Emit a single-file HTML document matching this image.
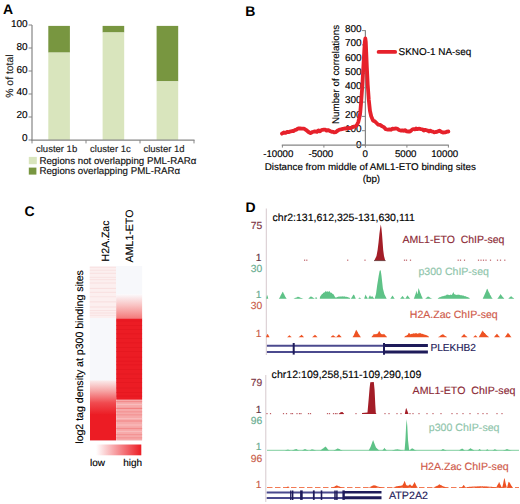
<!DOCTYPE html>
<html><head><meta charset="utf-8"><style>
html,body{margin:0;padding:0;background:#fff;}
svg{display:block;}
svg text{font-family:"Liberation Sans", sans-serif;text-rendering:geometricPrecision;}
</style></head><body>
<svg width="520" height="504" viewBox="0 0 520 504" font-family='"Liberation Sans", sans-serif'>
<rect width="520" height="504" fill="#fff"/>
<text x="3.0" y="13.85" font-size="14" fill="#000" text-anchor="start" font-weight="bold" >A</text>
<rect x="48.3" y="25.9" width="21.6" height="26.699999999999996" fill="#789640"/>
<rect x="48.3" y="52.599999999999994" width="21.6" height="87.4" fill="#d9e5bd"/>
<rect x="102.6" y="25.9" width="21.6" height="6.574999999999996" fill="#789640"/>
<rect x="102.6" y="32.474999999999994" width="21.6" height="107.525" fill="#d9e5bd"/>
<rect x="156.6" y="25.9" width="21.6" height="55.449999999999996" fill="#789640"/>
<rect x="156.6" y="81.35" width="21.6" height="58.650000000000006" fill="#d9e5bd"/>
<line x1="32" y1="25" x2="32" y2="140.6" stroke="#858585" stroke-width="1.2"/>
<line x1="28.6" y1="140.0" x2="32" y2="140.0" stroke="#858585" stroke-width="1"/>
<text x="27.6" y="141.0" font-size="10" fill="#000" text-anchor="end" font-weight="normal" stroke="#000" stroke-width="0.15" >0</text>
<line x1="28.6" y1="117.0" x2="32" y2="117.0" stroke="#858585" stroke-width="1"/>
<text x="27.6" y="118.18" font-size="10" fill="#000" text-anchor="end" font-weight="normal" stroke="#000" stroke-width="0.15" >20</text>
<line x1="28.6" y1="94.0" x2="32" y2="94.0" stroke="#858585" stroke-width="1"/>
<text x="27.6" y="95.36" font-size="10" fill="#000" text-anchor="end" font-weight="normal" stroke="#000" stroke-width="0.15" >40</text>
<line x1="28.6" y1="71.0" x2="32" y2="71.0" stroke="#858585" stroke-width="1"/>
<text x="27.6" y="72.54" font-size="10" fill="#000" text-anchor="end" font-weight="normal" stroke="#000" stroke-width="0.15" >60</text>
<line x1="28.6" y1="48.0" x2="32" y2="48.0" stroke="#858585" stroke-width="1"/>
<text x="27.6" y="49.720000000000006" font-size="10" fill="#000" text-anchor="end" font-weight="normal" stroke="#000" stroke-width="0.15" >80</text>
<line x1="28.6" y1="25.0" x2="32" y2="25.0" stroke="#858585" stroke-width="1"/>
<text x="27.6" y="26.9" font-size="10" fill="#000" text-anchor="end" font-weight="normal" stroke="#000" stroke-width="0.15" >100</text>
<line x1="31.5" y1="140.2" x2="194.5" y2="140.2" stroke="#858585" stroke-width="1.2"/>
<line x1="32" y1="140" x2="32" y2="143.4" stroke="#858585" stroke-width="1"/>
<line x1="86" y1="140" x2="86" y2="143.4" stroke="#858585" stroke-width="1"/>
<line x1="140" y1="140" x2="140" y2="143.4" stroke="#858585" stroke-width="1"/>
<line x1="194" y1="140" x2="194" y2="143.4" stroke="#858585" stroke-width="1"/>
<text x="56.6" y="152.2" font-size="9.5" fill="#222" text-anchor="middle" font-weight="normal" stroke="#222" stroke-width="0.15" >cluster 1b</text>
<text x="110.4" y="152.2" font-size="9.5" fill="#222" text-anchor="middle" font-weight="normal" stroke="#222" stroke-width="0.15" >cluster 1c</text>
<text x="164.0" y="152.2" font-size="9.5" fill="#222" text-anchor="middle" font-weight="normal" stroke="#222" stroke-width="0.15" >cluster 1d</text>
<text transform="translate(13.2,76.1) rotate(-90)" font-size="10.4" text-anchor="middle" fill="#222" stroke="#222" stroke-width="0.15">% of total</text>
<rect x="28.8" y="156.9" width="8" height="7.3" fill="#d9e5bd"/>
<rect x="28.8" y="167.6" width="7.6" height="7.0" fill="#789640"/>
<text x="39.4" y="164.3" font-size="9.72" fill="#111" text-anchor="start" font-weight="normal" stroke="#111" stroke-width="0.15" >Regions not overlapping PML-RAR&#945;</text>
<text x="39.4" y="174.3" font-size="9.72" fill="#111" text-anchor="start" font-weight="normal" stroke="#111" stroke-width="0.15" >Regions overlapping PML-RAR&#945;</text>
<text x="245.3" y="15.7" font-size="14" fill="#000" text-anchor="start" font-weight="bold" >B</text>
<line x1="365.4" y1="30.2" x2="365.4" y2="145.5" stroke="#858585" stroke-width="1.2"/>
<line x1="362" y1="145.00" x2="365.4" y2="145.00" stroke="#858585" stroke-width="1"/>
<text x="361.6" y="147.9" font-size="10" fill="#000" text-anchor="end" font-weight="normal" stroke="#000" stroke-width="0.15" >0</text>
<line x1="362" y1="130.70" x2="365.4" y2="130.70" stroke="#858585" stroke-width="1"/>
<text x="361.6" y="132.0" font-size="10" fill="#000" text-anchor="end" font-weight="normal" stroke="#000" stroke-width="0.15" >100</text>
<line x1="362" y1="116.40" x2="365.4" y2="116.40" stroke="#858585" stroke-width="1"/>
<text x="361.6" y="117.7" font-size="10" fill="#000" text-anchor="end" font-weight="normal" stroke="#000" stroke-width="0.15" >200</text>
<line x1="362" y1="102.10" x2="365.4" y2="102.10" stroke="#858585" stroke-width="1"/>
<text x="361.6" y="103.39999999999999" font-size="10" fill="#000" text-anchor="end" font-weight="normal" stroke="#000" stroke-width="0.15" >300</text>
<line x1="362" y1="87.80" x2="365.4" y2="87.80" stroke="#858585" stroke-width="1"/>
<text x="361.6" y="89.10000000000001" font-size="10" fill="#000" text-anchor="end" font-weight="normal" stroke="#000" stroke-width="0.15" >400</text>
<line x1="362" y1="73.50" x2="365.4" y2="73.50" stroke="#858585" stroke-width="1"/>
<text x="361.6" y="74.8" font-size="10" fill="#000" text-anchor="end" font-weight="normal" stroke="#000" stroke-width="0.15" >500</text>
<line x1="362" y1="59.20" x2="365.4" y2="59.20" stroke="#858585" stroke-width="1"/>
<text x="361.6" y="60.5" font-size="10" fill="#000" text-anchor="end" font-weight="normal" stroke="#000" stroke-width="0.15" >600</text>
<line x1="362" y1="44.90" x2="365.4" y2="44.90" stroke="#858585" stroke-width="1"/>
<text x="361.6" y="46.2" font-size="10" fill="#000" text-anchor="end" font-weight="normal" stroke="#000" stroke-width="0.15" >700</text>
<line x1="362" y1="30.60" x2="365.4" y2="30.60" stroke="#858585" stroke-width="1"/>
<text x="361.6" y="31.90000000000001" font-size="10" fill="#000" text-anchor="end" font-weight="normal" stroke="#000" stroke-width="0.15" >800</text>
<line x1="281.8" y1="145.2" x2="448.8" y2="145.2" stroke="#858585" stroke-width="1.2"/>
<line x1="282.4" y1="145" x2="282.4" y2="147.6" stroke="#858585" stroke-width="1"/>
<text x="278.3" y="157.4" font-size="9.7" fill="#000" text-anchor="middle" font-weight="normal" stroke="#000" stroke-width="0.15" >-10000</text>
<line x1="323.9" y1="145" x2="323.9" y2="147.6" stroke="#858585" stroke-width="1"/>
<text x="320.8" y="157.4" font-size="9.7" fill="#000" text-anchor="middle" font-weight="normal" stroke="#000" stroke-width="0.15" >-5000</text>
<line x1="365.4" y1="145" x2="365.4" y2="147.6" stroke="#858585" stroke-width="1"/>
<text x="365.3" y="157.4" font-size="9.7" fill="#000" text-anchor="middle" font-weight="normal" stroke="#000" stroke-width="0.15" >0</text>
<line x1="406.9" y1="145" x2="406.9" y2="147.6" stroke="#858585" stroke-width="1"/>
<text x="405.7" y="157.4" font-size="9.7" fill="#000" text-anchor="middle" font-weight="normal" stroke="#000" stroke-width="0.15" >5000</text>
<line x1="448.4" y1="145" x2="448.4" y2="147.6" stroke="#858585" stroke-width="1"/>
<text x="444.7" y="157.4" font-size="9.7" fill="#000" text-anchor="middle" font-weight="normal" stroke="#000" stroke-width="0.15" >10000</text>
<text x="370.3" y="169.7" font-size="9.8" fill="#000" text-anchor="middle" font-weight="normal" stroke="#000" stroke-width="0.15" >Distance from middle of AML1-ETO binding sites</text>
<text x="371.4" y="182.3" font-size="9.8" fill="#000" text-anchor="middle" font-weight="normal" stroke="#000" stroke-width="0.15" >(bp)</text>
<text transform="translate(339.4,74.5) rotate(-90)" font-size="9.8" text-anchor="middle" stroke="#000" stroke-width="0.15">Number of correlations</text>
<line x1="378.6" y1="51.9" x2="395.2" y2="51.9" stroke="#e6212b" stroke-width="3.8" stroke-linecap="round"/>
<text x="398.6" y="55.4" font-size="9.92" fill="#000" text-anchor="start" font-weight="normal" stroke="#000" stroke-width="0.15" >SKNO-1 NA-seq</text>
<path d="M281.90,133.65 L284.00,132.51 L285.55,132.96 L287.10,131.90 L288.55,132.20 L290.00,131.61 L292.30,130.98 L293.65,131.06 L295.00,129.85 L296.25,129.86 L297.50,128.80 L298.75,128.43 L300.00,128.49 L301.80,128.66 L304.00,128.67 L306.20,130.01 L308.50,131.98 L310.50,133.13 L312.50,132.01 L314.80,131.46 L317.00,131.87 L318.50,130.37 L320.00,131.30 L321.25,130.26 L322.50,129.80 L323.85,129.56 L325.20,129.63 L326.60,130.64 L328.00,130.05 L330.40,131.21 L331.70,131.74 L333.00,131.82 L334.30,132.47 L335.60,132.19 L338.00,130.38 L339.40,129.69 L340.80,129.45 L343.00,128.90 L344.50,128.49 L346.00,128.62 L347.25,128.23 L348.50,127.82 L349.85,128.26 L351.20,127.88 L353.50,126.74 L355.50,126.40 L357.00,124.84 L358.30,122.03 L359.30,117.82 L360.20,113.00 L361.30,100.00 L362.40,84.60 L363.30,68.00 L364.20,51.90 L364.80,42.00 L365.30,38.50 L365.80,42.00 L366.20,51.90 L366.90,68.00 L367.70,84.60 L368.80,100.00 L370.00,111.00 L371.20,116.20 L373.00,120.47 L375.00,121.47 L376.50,122.99 L378.00,124.56 L380.00,124.81 L382.30,126.38 L384.00,127.15 L385.80,129.24 L388.00,129.67 L389.50,129.35 L391.00,129.73 L392.25,128.69 L393.50,128.97 L394.85,128.68 L396.20,128.51 L397.60,128.89 L399.00,129.98 L401.30,130.72 L402.53,130.30 L403.77,130.80 L405.00,130.18 L406.65,131.33 L408.30,131.51 L409.65,131.49 L411.00,130.75 L412.25,129.45 L413.50,129.04 L414.75,129.44 L416.00,128.53 L417.35,129.15 L418.70,128.74 L421.00,129.16 L422.40,129.28 L423.80,130.48 L425.15,129.83 L426.50,130.25 L427.75,130.65 L429.00,131.52 L430.25,130.61 L431.50,131.33 L432.85,131.67 L434.20,132.34 L435.60,132.00 L437.00,131.81 L439.40,130.69 L441.00,131.68 L442.90,132.50 L445.00,132.44 L447.20,131.64 L448.40,131.50" fill="none" stroke="#e6212b" stroke-width="3.8" stroke-linejoin="round" stroke-linecap="round"/>
<text x="24.6" y="216.0" font-size="14" fill="#000" text-anchor="start" font-weight="bold" >C</text>
<defs><linearGradient id="gL" x1="0" y1="0" x2="0" y2="1"><stop offset="0" stop-color="#fbecec"/><stop offset="0.3" stop-color="#f6a6a6"/><stop offset="0.65" stop-color="#f04a4f"/><stop offset="1" stop-color="#ec1c24"/></linearGradient><linearGradient id="gR" x1="0" y1="0" x2="0" y2="1"><stop offset="0" stop-color="#fbfbfd"/><stop offset="0.45" stop-color="#f9c4c4"/><stop offset="1" stop-color="#f47a7a"/></linearGradient><linearGradient id="gBar" x1="0" y1="0" x2="1" y2="0"><stop offset="0" stop-color="#fff"/><stop offset="1" stop-color="#ec1c24"/></linearGradient></defs>
<rect x="89.8" y="266" width="52.4" height="175" fill="#f7f8fb"/>
<rect x="89.8" y="266.2" width="26.2" height="51.8" fill="#fcefef"/>
<rect x="89.8" y="267.0" width="26.2" height="1" fill="#f6d8d8" opacity="0.48"/>
<rect x="89.8" y="269.8" width="26.2" height="1" fill="#f6d8d8" opacity="0.52"/>
<rect x="89.8" y="272.8" width="26.2" height="1" fill="#f6d8d8" opacity="0.64"/>
<rect x="89.8" y="276.9" width="26.2" height="1" fill="#f6d8d8" opacity="0.53"/>
<rect x="89.8" y="279.1" width="26.2" height="1" fill="#f6d8d8" opacity="0.61"/>
<rect x="89.8" y="282.5" width="26.2" height="1" fill="#f6d8d8" opacity="0.68"/>
<rect x="89.8" y="287.9" width="26.2" height="1" fill="#f6d8d8" opacity="0.75"/>
<rect x="89.8" y="291.8" width="26.2" height="1" fill="#f6d8d8" opacity="0.71"/>
<rect x="89.8" y="296.2" width="26.2" height="1" fill="#f6d8d8" opacity="0.43"/>
<rect x="89.8" y="301.4" width="26.2" height="1" fill="#f6d8d8" opacity="0.79"/>
<rect x="89.8" y="306.5" width="26.2" height="1" fill="#f6d8d8" opacity="0.80"/>
<rect x="89.8" y="310.0" width="26.2" height="1" fill="#f6d8d8" opacity="0.60"/>
<rect x="89.8" y="312.5" width="26.2" height="1" fill="#f6d8d8" opacity="0.72"/>
<rect x="89.8" y="314.9" width="26.2" height="1" fill="#f6d8d8" opacity="0.43"/>
<rect x="90" y="380.4" width="26" height="34.6" fill="url(#gL)"/>
<rect x="90" y="414.8" width="26" height="25.6" fill="#ec1c24"/>
<rect x="116.2" y="294" width="25.9" height="24.6" fill="url(#gR)"/>
<rect x="116.2" y="318.5" width="25.9" height="81.3" fill="#ec1c24"/>
<rect x="116.2" y="320.5" width="25.9" height="0.8" fill="#e0161e" opacity="0.6"/>
<rect x="116.2" y="325.1" width="25.9" height="0.8" fill="#e0161e" opacity="0.6"/>
<rect x="116.2" y="329.1" width="25.9" height="0.8" fill="#e0161e" opacity="0.6"/>
<rect x="116.2" y="333.4" width="25.9" height="0.8" fill="#e0161e" opacity="0.6"/>
<rect x="116.2" y="338.0" width="25.9" height="0.8" fill="#e0161e" opacity="0.6"/>
<rect x="116.2" y="342.4" width="25.9" height="0.8" fill="#e0161e" opacity="0.6"/>
<rect x="116.2" y="347.2" width="25.9" height="0.8" fill="#e0161e" opacity="0.6"/>
<rect x="116.2" y="351.0" width="25.9" height="0.8" fill="#e0161e" opacity="0.6"/>
<rect x="116.2" y="356.8" width="25.9" height="0.8" fill="#e0161e" opacity="0.6"/>
<rect x="116.2" y="360.8" width="25.9" height="0.8" fill="#e0161e" opacity="0.6"/>
<rect x="116.2" y="364.4" width="25.9" height="0.8" fill="#e0161e" opacity="0.6"/>
<rect x="116.2" y="369.0" width="25.9" height="0.8" fill="#e0161e" opacity="0.6"/>
<rect x="116.2" y="373.6" width="25.9" height="0.8" fill="#e0161e" opacity="0.6"/>
<rect x="116.2" y="378.0" width="25.9" height="0.8" fill="#e0161e" opacity="0.6"/>
<rect x="116.2" y="382.0" width="25.9" height="0.8" fill="#e0161e" opacity="0.6"/>
<rect x="116.2" y="387.6" width="25.9" height="0.8" fill="#e0161e" opacity="0.6"/>
<rect x="116.2" y="392.2" width="25.9" height="0.8" fill="#e0161e" opacity="0.6"/>
<rect x="116.2" y="395.7" width="25.9" height="0.8" fill="#e0161e" opacity="0.6"/>
<rect x="116.2" y="399.8" width="25.9" height="40.6" fill="#f6a9a9"/>
<rect x="116.2" y="401.0" width="25.9" height="1.2" fill="#f28c8c"/>
<rect x="116.2" y="403.9" width="25.9" height="1.2" fill="#f8bcbc"/>
<rect x="116.2" y="407.8" width="25.9" height="1.2" fill="#f28282"/>
<rect x="116.2" y="411.2" width="25.9" height="1.2" fill="#f39494"/>
<rect x="116.2" y="414.2" width="25.9" height="1.2" fill="#f39494"/>
<rect x="116.2" y="418.0" width="25.9" height="1.2" fill="#f8bcbc"/>
<rect x="116.2" y="420.4" width="25.9" height="1.2" fill="#f28c8c"/>
<rect x="116.2" y="424.4" width="25.9" height="1.2" fill="#f8bcbc"/>
<rect x="116.2" y="427.9" width="25.9" height="1.2" fill="#f28c8c"/>
<rect x="116.2" y="430.9" width="25.9" height="1.2" fill="#f8bcbc"/>
<rect x="116.2" y="434.0" width="25.9" height="1.2" fill="#f39494"/>
<rect x="116.2" y="437.2" width="25.9" height="1.2" fill="#f39494"/>
<rect x="96" y="444.5" width="45.3" height="10.8" fill="url(#gBar)"/>
<text x="90.0" y="465.5" font-size="10" fill="#000" text-anchor="start" font-weight="normal" stroke="#000" stroke-width="0.15" >low</text>
<text x="123.2" y="465.5" font-size="10" fill="#000" text-anchor="start" font-weight="normal" stroke="#000" stroke-width="0.15" >high</text>
<text transform="translate(109.0,261.4) rotate(-90)" font-size="10.5" stroke="#000" stroke-width="0.15">H2A.Zac</text>
<text transform="translate(132.9,262.4) rotate(-90)" font-size="10.6" stroke="#000" stroke-width="0.15">AML1-ETO</text>
<text transform="translate(83.0,443.7) rotate(-90)" font-size="10.55" stroke="#000" stroke-width="0.15">log2 tag density at p300 binding sites</text>
<text x="245.6" y="212.1" font-size="14" fill="#000" text-anchor="start" font-weight="bold" >D</text>
<line x1="266.3" y1="208.5" x2="266.3" y2="355" stroke="#d6c9cd" stroke-width="1"/>
<text x="272.6" y="221.1" font-size="10.52" fill="#000" text-anchor="start" font-weight="normal" stroke="#000" stroke-width="0.15" >chr2:131,612,325-131,630,111</text>
<text x="262.2" y="229.4" font-size="10.3" fill="#7d3444" text-anchor="end" font-weight="normal" stroke="#7d3444" stroke-width="0.15" >75</text>
<text x="261.4" y="261.1" font-size="10.3" fill="#5e3040" text-anchor="end" font-weight="normal" stroke="#5e3040" stroke-width="0.15" >1</text>
<text x="402.5" y="242.6" font-size="10.5" fill="#8c2a36" text-anchor="start" font-weight="normal" stroke="#8c2a36" stroke-width="0.15" >AML1-ETO&#160; ChIP-seq</text>
<path d="M374.30,260.50 L376.50,256.00 L377.60,250.00 L378.60,242.00 L379.40,234.00 L380.20,228.00 L380.80,224.40 L381.40,228.00 L382.00,234.00 L382.60,242.00 L383.20,250.00 L384.00,256.00 L385.20,260.50Z" fill="#a31d27"/>
<rect x="304.0" y="259.6" width="1.2" height="1.2" fill="#a31d27" opacity="0.7"/>
<rect x="306.2" y="259.6" width="1.2" height="1.2" fill="#a31d27" opacity="0.7"/>
<rect x="347.09999999999997" y="259.6" width="1.2" height="1.2" fill="#a31d27" opacity="0.7"/>
<rect x="364.4" y="259.6" width="1.2" height="1.2" fill="#a31d27" opacity="0.7"/>
<rect x="403.9" y="259.6" width="1.2" height="1.2" fill="#a31d27" opacity="0.7"/>
<rect x="405.9" y="259.6" width="1.2" height="1.2" fill="#a31d27" opacity="0.7"/>
<rect x="409.9" y="259.6" width="1.2" height="1.2" fill="#a31d27" opacity="0.7"/>
<rect x="457.59999999999997" y="259.6" width="1.2" height="1.2" fill="#a31d27" opacity="0.7"/>
<rect x="459.9" y="259.6" width="1.2" height="1.2" fill="#a31d27" opacity="0.7"/>
<rect x="463.9" y="259.6" width="1.2" height="1.2" fill="#a31d27" opacity="0.7"/>
<rect x="477.9" y="259.6" width="1.2" height="1.2" fill="#a31d27" opacity="0.7"/>
<rect x="480.4" y="259.6" width="1.2" height="1.2" fill="#a31d27" opacity="0.7"/>
<rect x="482.9" y="259.6" width="1.2" height="1.2" fill="#a31d27" opacity="0.7"/>
<rect x="485.4" y="259.6" width="1.2" height="1.2" fill="#a31d27" opacity="0.7"/>
<rect x="489.9" y="259.6" width="1.2" height="1.2" fill="#a31d27" opacity="0.7"/>
<rect x="496.9" y="259.6" width="1.2" height="1.2" fill="#a31d27" opacity="0.7"/>
<rect x="499.9" y="259.6" width="1.2" height="1.2" fill="#a31d27" opacity="0.7"/>
<rect x="504.2" y="259.6" width="1.2" height="1.2" fill="#a31d27" opacity="0.7"/>
<line x1="374" y1="260.6" x2="385.6" y2="260.6" stroke="#5a2a2a" stroke-width="0.8"/>
<text x="262.2" y="271.7" font-size="10.3" fill="#66ab8e" text-anchor="end" font-weight="normal" stroke="#66ab8e" stroke-width="0.15" >30</text>
<text x="261.4" y="298.1" font-size="10.3" fill="#66ab8e" text-anchor="end" font-weight="normal" stroke="#66ab8e" stroke-width="0.15" >1</text>
<text x="418.5" y="275.2" font-size="10.55" fill="#8fc5ab" text-anchor="start" font-weight="normal" stroke="#8fc5ab" stroke-width="0.15" >p300 ChIP-seq</text>
<path d="M266.25,298.70 L266.50,297.19 L267.00,295.08 L267.50,295.75 L268.00,297.55 L268.25,298.70Z M278.75,298.70 L279.00,298.39 L279.50,297.69 L280.00,296.97 L280.50,295.87 L281.00,294.80 L281.50,293.90 L282.00,292.94 L282.50,291.90 L283.00,291.76 L283.50,293.18 L284.00,293.99 L284.50,295.09 L285.00,296.17 L285.50,296.99 L286.00,297.66 L286.50,298.38 L286.75,298.70Z M293.25,298.70 L293.50,298.63 L294.00,298.47 L294.50,298.28 L295.00,298.08 L295.50,297.87 L296.00,297.65 L296.50,297.47 L297.00,297.25 L297.50,296.89 L298.00,296.54 L298.50,296.93 L299.00,297.01 L299.50,297.22 L300.00,297.54 L300.50,297.73 L301.00,297.92 L301.50,298.11 L302.00,298.28 L302.50,298.44 L303.00,298.59 L303.25,298.70Z M308.25,298.70 L308.50,298.41 L309.00,298.03 L309.50,297.61 L310.00,297.04 L310.50,296.74 L311.00,296.32 L311.50,296.67 L312.00,297.02 L312.50,297.35 L313.00,297.61 L313.50,297.93 L314.00,298.23 L314.50,298.49 L314.75,298.70Z M315.25,298.70 L315.50,297.83 L316.00,296.66 L316.50,297.58 L317.00,298.36 L317.25,298.70Z M319.75,298.70 L320.00,297.04 L320.50,296.04 L321.00,295.45 L321.50,294.71 L322.00,294.05 L322.50,294.07 L323.00,293.25 L323.50,292.70 L324.00,292.46 L324.50,292.20 L325.00,292.16 L325.50,290.83 L326.00,291.60 L326.50,291.81 L327.00,291.41 L327.50,291.27 L328.00,291.69 L328.50,291.74 L329.00,291.46 L329.50,290.84 L330.00,292.33 L330.50,292.59 L331.00,292.84 L331.50,292.63 L332.00,293.06 L332.50,293.94 L333.00,293.93 L333.50,294.36 L334.00,295.21 L334.50,296.10 L335.00,296.92 L335.50,297.62 L336.00,297.51 L336.50,297.38 L337.00,296.98 L337.50,296.93 L338.00,296.85 L338.50,296.61 L339.00,296.69 L339.50,296.45 L340.00,296.40 L340.50,296.59 L341.00,296.54 L341.50,296.50 L342.00,296.51 L342.50,296.37 L343.00,296.51 L343.50,296.47 L344.00,296.62 L344.50,296.37 L345.00,296.64 L345.50,296.68 L346.00,296.73 L346.50,296.73 L347.00,297.00 L347.50,296.99 L348.00,297.26 L348.50,297.42 L349.00,297.62 L349.50,297.85 L350.00,298.14 L350.25,298.70Z M350.75,298.70 L351.00,298.50 L351.50,297.81 L352.00,296.99 L352.50,296.34 L353.00,295.22 L353.50,294.42 L354.00,294.90 L354.50,295.61 L355.00,297.00 L355.50,297.91 L355.75,298.70Z M358.25,298.70 L358.50,298.56 L359.00,298.09 L359.50,297.54 L360.00,297.63 L360.50,298.14 L361.00,298.58 L361.25,298.70Z M364.25,298.70 L364.50,297.60 L365.00,296.19 L365.50,294.44 L366.00,295.53 L366.50,296.55 L367.00,297.33 L367.50,298.11 L367.75,298.70Z M368.25,298.70 L368.50,298.00 L369.00,297.07 L369.50,295.95 L370.00,295.26 L370.50,296.05 L371.00,297.16 L371.50,296.86 L372.00,295.87 L372.50,296.61 L373.00,297.18 L373.50,297.74 L374.00,298.24 L374.50,298.65 L374.75,298.70Z M390.25,298.70 L390.50,298.42 L391.00,297.80 L391.50,297.01 L392.00,296.14 L392.50,295.53 L393.00,296.27 L393.50,297.08 L394.00,297.80 L394.50,298.42 L394.75,298.70Z M400.25,298.70 L400.50,298.31 L401.00,297.80 L401.50,297.23 L402.00,296.56 L402.50,296.02 L403.00,296.62 L403.50,297.24 L404.00,297.80 L404.50,298.31 L404.75,298.70Z M405.25,298.70 L405.50,298.24 L406.00,297.63 L406.50,296.83 L407.00,296.17 L407.50,295.29 L408.00,295.95 L408.50,296.85 L409.00,297.35 L409.50,297.91 L410.00,298.40 L410.25,298.70Z M413.75,298.70 L414.00,298.34 L414.50,296.95 L415.00,295.42 L415.50,294.25 L416.00,292.55 L416.50,290.54 L417.00,293.19 L417.50,294.22 L418.00,291.42 L418.50,287.88 L419.00,289.21 L419.50,290.51 L420.00,292.36 L420.50,293.26 L421.00,294.54 L421.50,296.02 L422.00,296.82 L422.50,297.93 L422.75,298.70Z M425.25,298.70 L425.50,298.43 L426.00,298.08 L426.50,297.70 L427.00,297.17 L427.50,296.94 L428.00,296.22 L428.50,296.75 L429.00,297.03 L429.50,297.21 L430.00,297.61 L430.50,297.89 L431.00,298.15 L431.50,298.39 L432.00,298.61 L432.25,298.70Z M437.75,298.70 L438.00,298.31 L438.50,297.88 L439.00,297.57 L439.50,297.23 L440.00,297.17 L440.50,296.89 L441.00,296.68 L441.50,296.57 L442.00,296.47 L442.50,296.27 L443.00,295.94 L443.50,296.14 L444.00,295.75 L444.50,295.69 L445.00,295.81 L445.50,295.54 L446.00,295.27 L446.50,294.92 L447.00,294.30 L447.50,294.78 L448.00,294.82 L448.50,294.63 L449.00,295.15 L449.50,294.99 L450.00,295.09 L450.50,294.54 L451.00,294.86 L451.50,294.93 L452.00,294.70 L452.50,293.87 L453.00,292.83 L453.50,292.07 L454.00,293.74 L454.50,294.31 L455.00,294.56 L455.50,294.49 L456.00,294.94 L456.50,294.99 L457.00,294.58 L457.50,294.80 L458.00,295.09 L458.50,294.55 L459.00,294.82 L459.50,294.77 L460.00,295.31 L460.50,294.89 L461.00,295.46 L461.50,295.07 L462.00,295.41 L462.50,295.57 L463.00,295.56 L463.50,295.48 L464.00,295.94 L464.50,296.14 L465.00,296.09 L465.50,296.36 L466.00,296.56 L466.50,296.70 L467.00,296.91 L467.50,297.04 L468.00,297.22 L468.50,297.45 L469.00,297.69 L469.50,298.03 L469.75,298.70Z M482.75,298.70 L483.00,297.97 L483.50,296.94 L484.00,296.06 L484.50,294.84 L485.00,293.87 L485.50,292.52 L486.00,291.47 L486.50,290.00 L487.00,288.81 L487.50,288.95 L488.00,290.19 L488.50,291.54 L489.00,292.40 L489.50,293.12 L490.00,294.70 L490.50,295.21 L491.00,296.34 L491.50,297.18 L492.00,297.96 L492.50,298.61 L492.75,298.70Z M497.25,298.70 L497.50,298.45 L498.00,297.88 L498.50,297.14 L499.00,296.57 L499.50,295.78 L500.00,294.88 L500.50,293.86 L501.00,294.97 L501.50,295.33 L502.00,296.05 L502.50,296.69 L503.00,297.34 L503.50,297.85 L504.00,298.33 L504.25,298.70Z M508.25,298.70 L508.50,298.39 L509.00,297.98 L509.50,297.52 L510.00,297.08 L510.50,296.70 L511.00,296.17 L511.50,296.62 L512.00,296.82 L512.50,297.38 L513.00,297.72 L513.50,298.10 L514.00,298.44 L514.25,298.70Z" fill="#5ec287"/>
<path d="M374.60,298.70 L376.00,294.00 L377.20,285.10 L378.70,275.80 L379.60,271.00 L380.20,270.10 L380.80,271.00 L381.50,275.80 L382.90,288.50 L384.40,294.30 L386.70,298.70Z" fill="#5ec287"/>
<text x="262.2" y="309.0" font-size="10.3" fill="#c85a46" text-anchor="end" font-weight="normal" stroke="#c85a46" stroke-width="0.15" >30</text>
<text x="261.4" y="336.7" font-size="10.3" fill="#c85a46" text-anchor="end" font-weight="normal" stroke="#c85a46" stroke-width="0.15" >1</text>
<text x="409.8" y="317.7" font-size="10.55" fill="#cf5a4a" text-anchor="start" font-weight="normal" stroke="#cf5a4a" stroke-width="0.15" >H2A.Zac ChIP-seq</text>
<path d="M266.05,337.20 L266.30,336.35 L266.80,335.36 L267.30,334.25 L267.80,333.91 L268.30,334.91 L268.80,335.90 L269.30,336.72 L269.55,337.20Z M287.05,337.20 L287.30,337.03 L287.80,336.64 L288.30,336.20 L288.80,335.77 L289.30,335.30 L289.80,335.41 L290.30,335.89 L290.80,336.39 L291.30,336.85 L291.55,337.20Z M298.55,337.20 L298.80,337.04 L299.30,336.69 L299.80,336.28 L300.30,335.93 L300.80,335.40 L301.30,334.99 L301.80,334.84 L302.30,335.39 L302.80,336.02 L303.30,336.47 L303.80,336.88 L304.05,337.20Z M312.05,337.20 L312.30,337.04 L312.80,336.69 L313.30,336.28 L313.80,335.83 L314.30,335.46 L314.80,334.71 L315.30,335.09 L315.80,335.57 L316.30,336.02 L316.80,336.47 L317.30,336.88 L317.55,337.20Z M330.55,337.20 L330.80,336.91 L331.30,336.53 L331.80,336.11 L332.30,335.80 L332.80,335.24 L333.30,335.27 L333.80,335.68 L334.30,336.09 L334.80,336.47 L335.30,336.82 L335.80,337.11 L336.30,337.00 L336.80,336.54 L337.30,336.03 L337.80,335.56 L338.30,334.87 L338.80,334.51 L339.30,334.52 L339.80,335.22 L340.30,335.71 L340.80,336.27 L341.30,336.80 L341.55,337.20Z M352.55,337.20 L352.80,336.70 L353.30,335.98 L353.80,335.13 L354.30,334.05 L354.80,333.07 L355.30,331.72 L355.80,330.62 L356.30,329.71 L356.80,330.70 L357.30,331.56 L357.80,332.32 L358.30,333.51 L358.80,334.35 L359.30,334.86 L359.80,335.87 L360.30,336.46 L360.80,337.03 L361.05,337.20Z M371.55,337.20 L371.80,336.53 L372.30,335.94 L372.80,335.47 L373.30,334.90 L373.80,333.66 L374.30,333.95 L374.80,334.43 L375.30,334.17 L375.80,333.96 L376.30,334.18 L376.80,333.85 L377.30,333.76 L377.80,333.48 L378.30,332.61 L378.80,331.43 L379.30,330.88 L379.80,331.82 L380.30,333.08 L380.80,333.60 L381.30,333.96 L381.80,334.18 L382.30,334.24 L382.80,334.26 L383.30,334.56 L383.80,333.75 L384.30,333.92 L384.80,334.63 L385.30,335.34 L385.80,335.69 L386.30,336.18 L386.80,336.85 L387.05,337.20Z M404.05,337.20 L404.30,336.93 L404.80,336.39 L405.30,336.04 L405.80,335.76 L406.30,335.65 L406.80,335.18 L407.30,334.98 L407.80,334.71 L408.30,333.84 L408.80,332.85 L409.30,333.31 L409.80,333.53 L410.30,334.28 L410.80,334.27 L411.30,334.06 L411.80,333.70 L412.30,333.93 L412.80,333.53 L413.30,333.31 L413.80,333.56 L414.30,333.58 L414.80,333.48 L415.30,333.31 L415.80,333.24 L416.30,333.33 L416.80,333.31 L417.30,333.69 L417.80,333.65 L418.30,333.61 L418.80,333.32 L419.30,333.52 L419.80,332.64 L420.30,333.03 L420.80,333.46 L421.30,333.76 L421.80,333.77 L422.30,333.86 L422.80,333.98 L423.30,334.31 L423.80,334.32 L424.30,334.48 L424.80,334.63 L425.30,334.94 L425.80,334.81 L426.30,335.26 L426.80,335.21 L427.30,335.48 L427.80,335.98 L428.30,336.17 L428.80,336.57 L429.05,337.20Z M438.05,337.20 L438.30,337.04 L438.80,336.77 L439.30,336.47 L439.80,336.15 L440.30,335.82 L440.80,335.35 L441.30,334.91 L441.80,334.73 L442.30,334.43 L442.80,334.24 L443.30,334.26 L443.80,334.98 L444.30,335.20 L444.80,335.70 L445.30,335.94 L445.80,336.28 L446.30,336.59 L446.80,336.88 L447.30,337.13 L447.55,337.20Z M461.05,337.20 L461.30,336.86 L461.80,336.41 L462.30,335.81 L462.80,335.50 L463.30,334.69 L463.80,334.23 L464.30,334.11 L464.80,334.73 L465.30,335.39 L465.80,335.66 L466.30,336.20 L466.80,336.61 L467.30,336.98 L467.55,337.20Z M473.05,337.20 L473.30,337.03 L473.80,336.64 L474.30,336.20 L474.80,335.72 L475.30,335.37 L475.80,335.52 L476.30,335.92 L476.80,336.45 L477.30,336.92 L477.55,337.20Z M478.55,337.20 L478.80,336.88 L479.30,336.17 L479.80,335.37 L480.30,334.56 L480.80,333.76 L481.30,332.66 L481.80,331.67 L482.30,330.26 L482.80,331.43 L483.30,331.47 L483.80,331.97 L484.30,333.02 L484.80,333.00 L485.30,333.70 L485.80,334.13 L486.30,334.92 L486.80,335.36 L487.30,335.80 L487.80,336.21 L488.30,336.62 L488.80,336.98 L489.05,337.20Z M494.05,337.20 L494.30,336.80 L494.80,336.28 L495.30,335.58 L495.80,335.06 L496.30,334.52 L496.80,333.82 L497.30,334.07 L497.80,334.85 L498.30,335.46 L498.80,335.90 L499.30,336.55 L499.80,337.06 L500.05,337.20Z M504.55,337.20 L504.80,337.04 L505.30,336.49 L505.80,335.90 L506.30,335.00 L506.80,334.53 L507.30,333.78 L507.80,332.82 L508.30,333.20 L508.80,333.83 L509.30,334.29 L509.80,335.09 L510.30,335.83 L510.80,336.52 L511.30,337.05 L511.55,337.20Z" fill="#ee5223"/>
<line x1="266.9" y1="345.7" x2="383.5" y2="345.7" stroke="#4b4a8e" stroke-width="2"/>
<line x1="266.9" y1="351.9" x2="383.5" y2="351.9" stroke="#4b4a8e" stroke-width="2"/>
<line x1="383.5" y1="345.6" x2="427.9" y2="345.6" stroke="#1e1b5a" stroke-width="3"/>
<line x1="383.5" y1="351.9" x2="427.9" y2="351.9" stroke="#1e1b5a" stroke-width="3"/>
<line x1="384" y1="342.9" x2="384" y2="354.7" stroke="#1e1b5a" stroke-width="2"/>
<line x1="293.7" y1="343" x2="293.7" y2="354.6" stroke="#1e1b5a" stroke-width="2"/>
<text x="430.4" y="351.2" font-size="10.15" fill="#1e1b5a" text-anchor="start" font-weight="normal" stroke="#1e1b5a" stroke-width="0.15" >PLEKHB2</text>
<line x1="265.8" y1="375" x2="265.8" y2="502" stroke="#d6c9cd" stroke-width="1"/>
<text x="271.6" y="378.0" font-size="10.58" fill="#000" text-anchor="start" font-weight="normal" stroke="#000" stroke-width="0.15" >chr12:109,258,511-109,290,109</text>
<text x="262.2" y="386.1" font-size="10.3" fill="#7d3444" text-anchor="end" font-weight="normal" stroke="#7d3444" stroke-width="0.15" >79</text>
<text x="261.4" y="413.3" font-size="10.3" fill="#5e3040" text-anchor="end" font-weight="normal" stroke="#5e3040" stroke-width="0.15" >1</text>
<text x="412.6" y="393.7" font-size="10.6" fill="#8c2a36" text-anchor="start" font-weight="normal" stroke="#8c2a36" stroke-width="0.15" >AML1-ETO&#160; ChIP-seq</text>
<path d="M362.00,414.00 L362.00,413.00 L367.50,412.50 L368.60,400.00 L369.60,388.00 L370.30,382.30 L373.80,382.10 L374.60,390.00 L375.30,405.00 L375.80,413.00 L376.50,414.00Z" fill="#a31d27"/>
<path d="M404.80,414.00 L405.80,409.00 L406.30,408.00 L407.00,410.00 L408.50,414.00Z" fill="#a31d27"/>
<rect x="266.4" y="413.0" width="1.2" height="1.2" fill="#a31d27" opacity="0.7"/>
<rect x="269.9" y="413.0" width="1.2" height="1.2" fill="#a31d27" opacity="0.7"/>
<rect x="282.9" y="413.0" width="1.2" height="1.2" fill="#a31d27" opacity="0.7"/>
<rect x="285.9" y="413.0" width="1.2" height="1.2" fill="#a31d27" opacity="0.7"/>
<rect x="290.4" y="413.0" width="1.2" height="1.2" fill="#a31d27" opacity="0.7"/>
<rect x="291.9" y="413.0" width="1.2" height="1.2" fill="#a31d27" opacity="0.7"/>
<rect x="296.4" y="413.0" width="1.2" height="1.2" fill="#a31d27" opacity="0.7"/>
<rect x="298.9" y="413.0" width="1.2" height="1.2" fill="#a31d27" opacity="0.7"/>
<rect x="300.4" y="413.0" width="1.2" height="1.2" fill="#a31d27" opacity="0.7"/>
<rect x="307.9" y="413.0" width="1.2" height="1.2" fill="#a31d27" opacity="0.7"/>
<rect x="309.9" y="413.0" width="1.2" height="1.2" fill="#a31d27" opacity="0.7"/>
<rect x="326.9" y="413.0" width="1.2" height="1.2" fill="#a31d27" opacity="0.7"/>
<rect x="328.9" y="413.0" width="1.2" height="1.2" fill="#a31d27" opacity="0.7"/>
<rect x="332.9" y="413.0" width="1.2" height="1.2" fill="#a31d27" opacity="0.7"/>
<rect x="334.9" y="413.0" width="1.2" height="1.2" fill="#a31d27" opacity="0.7"/>
<rect x="336.4" y="413.0" width="1.2" height="1.2" fill="#a31d27" opacity="0.7"/>
<rect x="338.9" y="413.0" width="1.2" height="1.2" fill="#a31d27" opacity="0.7"/>
<rect x="340.4" y="413.0" width="1.2" height="1.2" fill="#a31d27" opacity="0.7"/>
<rect x="342.4" y="413.0" width="1.2" height="1.2" fill="#a31d27" opacity="0.7"/>
<rect x="355.4" y="413.0" width="1.2" height="1.2" fill="#a31d27" opacity="0.7"/>
<rect x="384.4" y="413.0" width="1.2" height="1.2" fill="#a31d27" opacity="0.7"/>
<rect x="388.4" y="413.0" width="1.2" height="1.2" fill="#a31d27" opacity="0.7"/>
<rect x="396.4" y="413.0" width="1.2" height="1.2" fill="#a31d27" opacity="0.7"/>
<rect x="400.4" y="413.0" width="1.2" height="1.2" fill="#a31d27" opacity="0.7"/>
<rect x="409.4" y="413.0" width="1.2" height="1.2" fill="#a31d27" opacity="0.7"/>
<rect x="412.4" y="413.0" width="1.2" height="1.2" fill="#a31d27" opacity="0.7"/>
<rect x="418.4" y="413.0" width="1.2" height="1.2" fill="#a31d27" opacity="0.7"/>
<rect x="426.4" y="413.0" width="1.2" height="1.2" fill="#a31d27" opacity="0.7"/>
<rect x="432.4" y="413.0" width="1.2" height="1.2" fill="#a31d27" opacity="0.7"/>
<rect x="440.4" y="413.0" width="1.2" height="1.2" fill="#a31d27" opacity="0.7"/>
<rect x="451.4" y="413.0" width="1.2" height="1.2" fill="#a31d27" opacity="0.7"/>
<rect x="456.4" y="413.0" width="1.2" height="1.2" fill="#a31d27" opacity="0.7"/>
<rect x="462.4" y="413.0" width="1.2" height="1.2" fill="#a31d27" opacity="0.7"/>
<rect x="469.4" y="413.0" width="1.2" height="1.2" fill="#a31d27" opacity="0.7"/>
<rect x="477.4" y="413.0" width="1.2" height="1.2" fill="#a31d27" opacity="0.7"/>
<rect x="482.4" y="413.0" width="1.2" height="1.2" fill="#a31d27" opacity="0.7"/>
<rect x="486.4" y="413.0" width="1.2" height="1.2" fill="#a31d27" opacity="0.7"/>
<rect x="496.4" y="413.0" width="1.2" height="1.2" fill="#a31d27" opacity="0.7"/>
<rect x="501.4" y="413.0" width="1.2" height="1.2" fill="#a31d27" opacity="0.7"/>
<path d="M339.50,414.00 L340.50,412.20 L342.50,412.00 L344.00,414.00Z" fill="#a31d27"/>
<text x="262.2" y="424.0" font-size="10.3" fill="#66ab8e" text-anchor="end" font-weight="normal" stroke="#66ab8e" stroke-width="0.15" >96</text>
<text x="261.4" y="449.8" font-size="10.3" fill="#66ab8e" text-anchor="end" font-weight="normal" stroke="#66ab8e" stroke-width="0.15" >1</text>
<text x="428.8" y="430.7" font-size="10.6" fill="#8fc5ab" text-anchor="start" font-weight="normal" stroke="#8fc5ab" stroke-width="0.15" >p300 ChIP-seq</text>
<line x1="267" y1="450.3" x2="519" y2="450.3" stroke="#5ec287" stroke-width="0.8"/>
<path d="M284.25,450.60 L284.50,450.51 L285.00,450.39 L285.50,450.26 L286.00,450.12 L286.50,449.97 L287.00,449.82 L287.50,449.66 L288.00,449.50 L288.50,449.72 L289.00,449.92 L289.50,450.12 L290.00,450.31 L290.50,450.47 L290.75,450.60Z M291.25,450.60 L291.50,450.50 L292.00,450.38 L292.50,450.24 L293.00,450.09 L293.50,449.94 L294.00,449.77 L294.50,449.61 L295.00,449.43 L295.50,449.22 L296.00,448.96 L296.50,449.06 L297.00,449.45 L297.50,449.72 L298.00,449.98 L298.50,450.22 L299.00,450.43 L299.25,450.60Z M301.75,450.60 L302.00,450.41 L302.50,450.21 L303.00,450.00 L303.50,449.76 L304.00,449.52 L304.50,449.25 L305.00,448.94 L305.50,449.34 L306.00,449.47 L306.50,449.69 L307.00,449.90 L307.50,450.11 L308.00,450.30 L308.50,450.47 L308.75,450.60Z M309.25,450.60 L309.50,450.44 L310.00,450.23 L310.50,449.99 L311.00,449.74 L311.50,449.48 L312.00,449.14 L312.50,449.38 L313.00,449.54 L313.50,449.71 L314.00,449.87 L314.50,450.02 L315.00,450.17 L315.50,450.31 L316.00,450.44 L316.50,450.55 L316.75,450.60Z M319.75,450.60 L320.00,450.48 L320.50,450.21 L321.00,449.90 L321.50,449.57 L322.00,449.15 L322.50,448.80 L323.00,448.55 L323.50,448.27 L324.00,447.45 L324.50,447.47 L325.00,446.85 L325.50,446.51 L326.00,447.18 L326.50,447.57 L327.00,448.11 L327.50,448.96 L328.00,449.44 L328.50,449.95 L329.00,450.40 L329.25,450.60Z M333.25,450.60 L333.50,450.52 L334.00,450.33 L334.50,450.12 L335.00,449.89 L335.50,449.65 L336.00,449.36 L336.50,449.18 L337.00,448.84 L337.50,448.62 L338.00,448.43 L338.50,448.70 L339.00,448.95 L339.50,449.03 L340.00,449.40 L340.50,449.65 L341.00,449.89 L341.50,450.12 L342.00,450.33 L342.50,450.52 L342.75,450.60Z M382.25,450.60 L382.50,450.22 L383.00,449.73 L383.50,449.26 L384.00,448.47 L384.50,447.77 L385.00,448.63 L385.50,449.28 L386.00,449.73 L386.50,450.22 L386.75,450.60Z M391.25,450.60 L391.50,450.50 L392.00,450.40 L392.50,450.30 L393.00,450.20 L393.50,450.08 L394.00,449.97 L394.50,449.85 L395.00,449.72 L395.50,449.60 L396.00,449.47 L396.50,449.40 L397.00,449.30 L397.50,449.35 L398.00,449.43 L398.50,449.54 L399.00,449.65 L399.50,449.76 L400.00,449.87 L400.50,449.97 L401.00,450.07 L401.50,450.17 L402.00,450.26 L402.50,450.35 L403.00,450.44 L403.50,450.51 L403.75,450.60Z M409.25,450.60 L409.50,450.32 L410.00,449.96 L410.50,449.56 L411.00,449.23 L411.50,448.76 L412.00,448.30 L412.50,448.48 L413.00,448.68 L413.50,449.02 L414.00,449.38 L414.50,449.63 L415.00,449.89 L415.50,450.13 L416.00,450.36 L416.50,450.55 L416.75,450.60Z M440.25,450.60 L440.50,450.41 L441.00,450.17 L441.50,449.90 L442.00,449.62 L442.50,449.33 L443.00,448.99 L443.50,449.27 L444.00,449.47 L444.50,449.69 L445.00,449.90 L445.50,450.11 L446.00,450.30 L446.50,450.47 L446.75,450.60Z M458.75,450.60 L459.00,450.40 L459.50,450.13 L460.00,449.84 L460.50,449.53 L461.00,449.24 L461.50,448.99 L462.00,448.58 L462.50,448.72 L463.00,449.31 L463.50,449.56 L464.00,449.88 L464.50,450.17 L465.00,450.44 L465.25,450.60Z M467.25,450.60 L467.50,450.36 L468.00,450.04 L468.50,449.70 L469.00,449.32 L469.50,448.89 L470.00,448.39 L470.50,448.22 L471.00,448.55 L471.50,448.89 L472.00,449.18 L472.50,449.48 L473.00,449.79 L473.50,450.08 L474.00,450.35 L474.25,450.60Z M477.75,450.60 L478.00,450.43 L478.50,450.03 L479.00,449.59 L479.50,449.11 L480.00,449.30 L480.50,449.86 L481.00,450.28 L481.25,450.60Z M485.75,450.60 L486.00,450.25 L486.50,449.87 L487.00,449.46 L487.50,449.30 L488.00,449.79 L488.50,450.18 L489.00,450.51 L489.25,450.60Z M492.25,450.60 L492.50,450.53 L493.00,450.28 L493.50,450.00 L494.00,449.68 L494.50,449.27 L495.00,449.13 L495.50,449.45 L496.00,449.68 L496.50,450.00 L497.00,450.28 L497.50,450.53 L497.75,450.60Z M502.75,450.60 L503.00,450.46 L503.50,450.33 L504.00,450.19 L504.50,450.04 L505.00,449.88 L505.50,449.72 L506.00,449.55 L506.50,449.33 L507.00,449.10 L507.50,449.36 L508.00,449.51 L508.50,449.66 L509.00,449.81 L509.50,449.95 L510.00,450.09 L510.50,450.22 L511.00,450.34 L511.50,450.46 L511.75,450.60Z" fill="#5ec287"/>
<path d="M368.70,450.60 L370.50,447.00 L372.00,443.00 L373.10,440.00 L374.20,443.00 L376.00,447.50 L379.20,450.60Z" fill="#5ec287"/>
<path d="M404.60,450.60 L405.40,440.00 L406.10,426.00 L406.70,419.20 L407.30,426.00 L408.00,440.00 L409.20,450.60Z" fill="#5ec287"/>
<text x="262.2" y="461.7" font-size="10.3" fill="#c85a46" text-anchor="end" font-weight="normal" stroke="#c85a46" stroke-width="0.15" >96</text>
<text x="261.4" y="487.7" font-size="10.3" fill="#c85a46" text-anchor="end" font-weight="normal" stroke="#c85a46" stroke-width="0.15" >1</text>
<text x="420.4" y="469.6" font-size="10.6" fill="#cf5a4a" text-anchor="start" font-weight="normal" stroke="#cf5a4a" stroke-width="0.15" >H2A.Zac ChIP-seq</text>
<line x1="267" y1="487.5" x2="519" y2="487.5" stroke="#ee5223" stroke-width="0.9" stroke-dasharray="5.5 2.5" opacity="0.85"/>
<path d="M286.25,487.80 L286.50,487.52 L287.00,487.15 L287.50,486.74 L288.00,486.28 L288.50,486.74 L289.00,487.15 L289.50,487.52 L289.75,487.80Z M331.25,487.80 L331.50,487.68 L332.00,487.52 L332.50,487.35 L333.00,487.16 L333.50,486.96 L334.00,486.76 L334.50,486.65 L335.00,486.35 L335.50,485.97 L336.00,485.76 L336.50,485.50 L337.00,485.20 L337.50,485.74 L338.00,486.02 L338.50,486.23 L339.00,486.35 L339.50,486.54 L340.00,486.80 L340.50,487.01 L341.00,487.21 L341.50,487.40 L342.00,487.58 L342.50,487.73 L342.75,487.80Z M367.75,487.80 L368.00,487.73 L368.50,487.56 L369.00,487.38 L369.50,487.18 L370.00,486.96 L370.50,486.74 L371.00,486.41 L371.50,486.21 L372.00,485.98 L372.50,485.68 L373.00,485.54 L373.50,485.24 L374.00,485.38 L374.50,485.22 L375.00,485.62 L375.50,485.53 L376.00,485.81 L376.50,486.08 L377.00,486.29 L377.50,486.41 L378.00,486.47 L378.50,486.66 L379.00,486.81 L379.50,486.95 L380.00,487.10 L380.50,487.23 L381.00,487.37 L381.50,487.49 L382.00,487.61 L382.50,487.72 L382.75,487.80Z M393.25,487.80 L393.50,487.36 L394.00,487.14 L394.50,486.96 L395.00,486.80 L395.50,486.66 L396.00,486.48 L396.50,486.37 L397.00,486.14 L397.50,486.21 L398.00,486.10 L398.50,486.08 L399.00,486.06 L399.50,485.86 L400.00,486.00 L400.50,485.84 L401.00,485.74 L401.50,485.50 L402.00,485.58 L402.50,485.19 L403.00,484.36 L403.50,483.47 L404.00,482.35 L404.50,480.71 L405.00,481.63 L405.50,483.09 L406.00,484.41 L406.50,485.18 L407.00,485.46 L407.50,485.58 L408.00,485.66 L408.50,485.53 L409.00,485.16 L409.50,484.74 L410.00,484.13 L410.50,484.68 L411.00,485.38 L411.50,485.84 L412.00,486.06 L412.50,485.67 L413.00,484.82 L413.50,484.05 L414.00,483.35 L414.50,481.86 L415.00,483.02 L415.50,483.74 L416.00,485.11 L416.50,486.03 L417.00,486.83 L417.50,487.36 L417.75,487.80Z M432.75,487.80 L433.00,487.69 L433.50,487.50 L434.00,487.30 L434.50,487.08 L435.00,486.84 L435.50,486.54 L436.00,486.40 L436.50,485.95 L437.00,485.82 L437.50,485.67 L438.00,485.39 L438.50,485.02 L439.00,484.60 L439.50,484.13 L440.00,484.85 L440.50,484.97 L441.00,485.30 L441.50,485.22 L442.00,485.80 L442.50,486.05 L443.00,486.26 L443.50,486.39 L444.00,486.50 L444.50,486.81 L445.00,487.01 L445.50,487.21 L446.00,487.40 L446.50,487.58 L447.00,487.73 L447.25,487.80Z M461.25,487.80 L461.50,487.58 L462.00,487.09 L462.50,486.44 L463.00,485.84 L463.50,485.05 L464.00,485.20 L464.50,486.05 L465.00,486.65 L465.50,487.12 L466.00,487.25 L466.50,487.17 L467.00,487.10 L467.50,487.03 L468.00,486.97 L468.50,486.91 L469.00,486.86 L469.50,486.81 L470.00,486.76 L470.50,486.72 L471.00,486.68 L471.50,486.64 L472.00,486.51 L472.50,486.51 L473.00,486.64 L473.50,486.46 L474.00,486.50 L474.50,486.48 L475.00,486.46 L475.50,486.48 L476.00,486.51 L476.50,486.42 L477.00,486.39 L477.50,486.22 L478.00,486.42 L478.50,486.20 L479.00,486.39 L479.50,486.34 L480.00,486.22 L480.50,486.22 L481.00,486.32 L481.50,486.42 L482.00,486.32 L482.50,486.35 L483.00,486.22 L483.50,486.42 L484.00,486.38 L484.50,486.27 L485.00,486.50 L485.50,486.42 L486.00,486.35 L486.50,486.38 L487.00,486.58 L487.50,486.61 L488.00,486.63 L488.50,486.47 L489.00,486.65 L489.50,486.64 L490.00,486.68 L490.50,486.72 L491.00,486.76 L491.50,486.81 L492.00,486.86 L492.50,486.91 L493.00,486.97 L493.50,487.03 L494.00,487.10 L494.50,487.17 L495.00,487.25 L495.50,487.33 L496.00,487.43 L496.50,486.90 L497.00,486.01 L497.50,485.01 L498.00,484.34 L498.50,483.41 L499.00,481.90 L499.50,482.48 L500.00,483.96 L500.50,484.86 L501.00,486.11 L501.50,487.04 L501.75,487.80Z M502.25,487.80 L502.50,486.29 L503.00,484.51 L503.50,481.76 L504.00,479.23 L504.50,477.88 L505.00,479.97 L505.50,482.81 L506.00,484.68 L506.50,486.38 L506.75,487.80Z M507.25,487.80 L507.50,486.11 L508.00,483.92 L508.50,482.03 L509.00,481.73 L509.50,482.50 L510.00,483.34 L510.50,483.91 L511.00,485.16 L511.50,485.67 L512.00,486.46 L512.50,487.18 L513.00,487.73 L513.25,487.80Z" fill="#ee5223"/>
<line x1="266.7" y1="492.5" x2="345" y2="492.5" stroke="#4b4a8e" stroke-width="2"/>
<line x1="266.7" y1="497.9" x2="345" y2="497.9" stroke="#4b4a8e" stroke-width="2"/>
<line x1="344" y1="492.3" x2="381.5" y2="492.3" stroke="#1e1b5a" stroke-width="2.6"/>
<line x1="344" y1="497.7" x2="381.5" y2="497.7" stroke="#1e1b5a" stroke-width="3"/>
<line x1="290.8" y1="490.4" x2="290.8" y2="499.9" stroke="#1e1b5a" stroke-width="1.4"/>
<line x1="292.7" y1="490.4" x2="292.7" y2="499.9" stroke="#1e1b5a" stroke-width="1.4"/>
<line x1="301.4" y1="490.4" x2="301.4" y2="499.9" stroke="#1e1b5a" stroke-width="2.6"/>
<line x1="313.8" y1="490.4" x2="313.8" y2="499.9" stroke="#1e1b5a" stroke-width="1.8"/>
<line x1="321.5" y1="490.4" x2="321.5" y2="499.9" stroke="#1e1b5a" stroke-width="1.6"/>
<line x1="335.0" y1="490.4" x2="335.0" y2="499.9" stroke="#1e1b5a" stroke-width="1.5"/>
<line x1="336.9" y1="490.4" x2="336.9" y2="499.9" stroke="#1e1b5a" stroke-width="1.5"/>
<line x1="343.6" y1="490.4" x2="343.6" y2="499.9" stroke="#1e1b5a" stroke-width="2.4"/>
<text x="389.0" y="499.2" font-size="10.7" fill="#1e1b5a" text-anchor="start" font-weight="normal" stroke="#1e1b5a" stroke-width="0.15" >ATP2A2</text>
</svg>
</body></html>
